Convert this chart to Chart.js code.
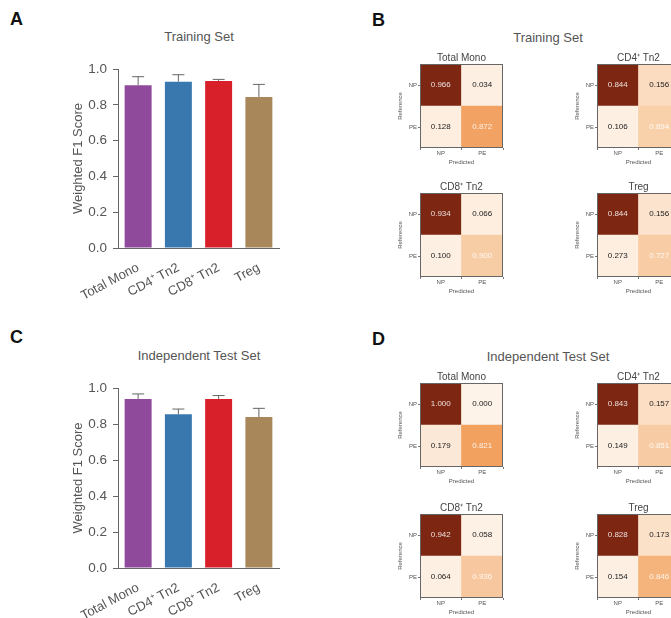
<!DOCTYPE html>
<html>
<head>
<meta charset="utf-8">
<script src="https://cdn.jsdelivr.net/npm/chart.js@4.4.0/dist/chart.umd.min.js"></script>
<style>
  html, body { margin: 0; padding: 0; background: #fff; }
  body { width: 671px; height: 618px; position: relative; overflow: hidden; font-family: 'Liberation Sans', Arial, sans-serif; }
  canvas { position: absolute; }
  .lbl { position: absolute; font-weight: bold; font-size: 18px; color: #111; }
  .ttl { position: absolute; font-size: 13px; color: #555; transform: translate(-50%, -50%); white-space: nowrap; }
  .mt { position: absolute; font-size: 10px; color: #444; transform: translate(-50%, -50%); white-space: nowrap; }
</style>
</head>
<body>
<div class="lbl" style="left:10px;top:9px">A</div>
<div class="lbl" style="left:372px;top:10px">B</div>
<div class="lbl" style="left:10px;top:327px">C</div>
<div class="lbl" style="left:372px;top:329px">D</div>
<div class="ttl" style="left:199px;top:36px">Training Set</div>
<div class="ttl" style="left:548px;top:37px">Training Set</div>
<div class="ttl" style="left:199px;top:355px">Independent Test Set</div>
<div class="ttl" style="left:548px;top:356px">Independent Test Set</div>

<canvas id="barA" width="300" height="300" style="left:0;top:0"></canvas>
<canvas id="barC" width="300" height="318" style="left:0;top:300px"></canvas>

<canvas id="b1" width="143" height="124" style="left:390px;top:46px"></canvas>
<canvas id="b2" width="143" height="124" style="left:567px;top:46px"></canvas>
<canvas id="b3" width="143" height="124" style="left:390px;top:175px"></canvas>
<canvas id="b4" width="143" height="124" style="left:567px;top:175px"></canvas>
<canvas id="d1" width="143" height="124" style="left:390px;top:365px"></canvas>
<canvas id="d2" width="143" height="124" style="left:567px;top:365px"></canvas>
<canvas id="d3" width="143" height="124" style="left:390px;top:496px"></canvas>
<canvas id="d4" width="143" height="124" style="left:567px;top:496px"></canvas>

<script>
// bar panels
const cellTypes = ['Total Mono', 'CD4\u207A Tn2', 'CD8\u207A Tn2', 'Treg'];
const trainF1 = [0.909, 0.929, 0.933, 0.844];
const trainErr = [0.048, 0.039, 0.009, 0.070];
const testF1 = [0.939, 0.854, 0.939, 0.839];
const testErr = [0.028, 0.029, 0.019, 0.048];

// confusion matrices: rows = Reference (NP, PE), columns = Predicted (NP, PE)
const predLabels = ['NP', 'PE'];
const trainRowNP = [[0.966, 0.034], [0.844, 0.156], [0.934, 0.066], [0.844, 0.156]];
const trainRowPE = [[0.128, 0.872], [0.106, 0.894], [0.100, 0.900], [0.273, 0.727]];
const testRowNP = [[1.000, 0.000], [0.843, 0.157], [0.942, 0.058], [0.828, 0.173]];
const testRowPE = [[0.179, 0.821], [0.149, 0.851], [0.064, 0.936], [0.154, 0.846]];

const barColors = ['#8f4a9b', '#3878ae', '#d8202a', '#a8875a'];
const dark = '#7d2713';
const trainColNP = [[dark, '#fdf0e3'], [dark, '#fbdcc0'], [dark, '#fdeee0'], [dark, '#fce3cd']];
const trainColPE = [['#fdeee0', '#f2a262'], ['#fdf0e3', '#f8d1ab'], ['#fdf0e3', '#f7cda6'], ['#fdeee0', '#f8cca4']];
const testColNP = [[dark, '#fdf3e8'], [dark, '#fbdec4'], [dark, '#fdf0e4'], [dark, '#fce1c9']];
const testColPE = [['#fce8d6', '#f2a15e'], ['#fdf0e3', '#f7cba4'], ['#fdf0e3', '#f7c89f'], ['#fdf0e3', '#f4b47c']];

Chart.defaults.font.family = "'Liberation Sans', Arial, sans-serif";
Chart.defaults.color = '#555';

const errorBars = {
    id: 'errorBars',
    afterDatasetsDraw(chart) {
        const ctx = chart.ctx;
        const ds = chart.data.datasets[0];
        const ys = chart.scales.y;
        ctx.save();
        ctx.strokeStyle = '#666';
        ctx.lineWidth = 1;
        chart.getDatasetMeta(0).data.forEach((bar, i) => {
            const top = ys.getPixelForValue(ds.data[i] + ds.errs[i]);
            ctx.beginPath();
            ctx.moveTo(bar.x, bar.y);
            ctx.lineTo(bar.x, top);
            ctx.moveTo(bar.x - 6, top);
            ctx.lineTo(bar.x + 6, top);
            ctx.stroke();
        });
        ctx.restore();
    }
};

function barChart(id, values, errs, padTop, xHeight) {
    new Chart(document.getElementById(id), {
        type: 'bar',
        data: {
            labels: cellTypes,
            datasets: [{
                data: values,
                errs: errs,
                backgroundColor: barColors,
                barPercentage: 0.67,
                categoryPercentage: 1
            }]
        },
        options: {
            responsive: false,
            animation: false,
            layout: { padding: { left: 70, right: 21, top: padTop, bottom: 0 } },
            plugins: { legend: { display: false }, tooltip: { enabled: false } },
            scales: {
                x: {
                    grid: { display: false },
                    border: { color: '#666' },
                    ticks: { font: { size: 13 }, minRotation: 28, maxRotation: 28, padding: 4, color: '#555' },
                    afterFit: s => { s.height = xHeight; }
                },
                y: {
                    min: 0,
                    max: 1,
                    ticks: { stepSize: 0.2, callback: v => v.toFixed(1), font: { size: 13.5 }, padding: 6, color: '#555' },
                    grid: { drawOnChartArea: false, tickLength: 5, color: '#666' },
                    border: { color: '#666' },
                    title: { display: true, text: 'Weighted F1 Score', font: { size: 13 }, color: '#555', padding: { top: 1, bottom: 0 } },
                    afterFit: s => { s.width = 48; }
                }
            }
        },
        plugins: [errorBars]
    });
}

const matrixDeco = {
    id: 'matrixDeco',
    afterDatasetsDraw(chart) {
        const ctx = chart.ctx;
        const a = chart.chartArea;
        ctx.save();
        ctx.font = "8px 'Liberation Sans', Arial, sans-serif";
        ctx.textAlign = 'center';
        ctx.textBaseline = 'middle';
        chart.data.datasets.forEach((ds, di) => {
            chart.getDatasetMeta(di).data.forEach((cell, ci) => {
                const diag = (di === 0 && ci === 1) || (di === 1 && ci === 0);
                ctx.fillStyle = diag ? 'rgba(255,255,255,0.85)' : '#222';
                ctx.fillText(ds.vals[ci].toFixed(3), cell.x, (cell.y + cell.base) / 2);
            });
        });
        ctx.strokeStyle = '#666';
        ctx.lineWidth = 1;
        ctx.strokeRect(Math.round(a.left) + 0.5, Math.round(a.top) + 0.5, Math.round(a.width) - 1, Math.round(a.height) - 1);
        ctx.restore();
    }
};

function matrixChart(id, title, rowNP, rowPE, colNP, colPE) {
    const canvas = document.getElementById(id);
    // matrix title as page text, centred over the cell box
    const t = document.createElement('div');
    t.className = 'mt';
    t.textContent = title;
    t.style.left = (parseFloat(canvas.style.left) + 30 + 41.5) + 'px';
    t.style.top = (parseFloat(canvas.style.top) + 11) + 'px';
    document.body.appendChild(t);

    new Chart(canvas, {
        type: 'bar',
        data: {
            labels: predLabels,
            datasets: [
                { data: [1, 1], vals: rowPE, backgroundColor: colPE, barPercentage: 1, categoryPercentage: 1 },
                { data: [1, 1], vals: rowNP, backgroundColor: colNP, barPercentage: 1, categoryPercentage: 1 }
            ]
        },
        options: {
            responsive: false,
            animation: false,
            layout: { padding: { left: 6, right: 30, top: 18, bottom: 0 } },
            plugins: { legend: { display: false }, tooltip: { enabled: false } },
            scales: {
                x: {
                    stacked: true,
                    grid: { drawOnChartArea: false, tickLength: 2, color: '#777' },
                    border: { display: false },
                    ticks: { font: { size: 6 }, padding: 0, color: '#555' },
                    title: { display: true, text: 'Predicted', font: { size: 6 }, color: '#555', padding: { top: 0, bottom: 4 } },
                    afterFit: s => { s.height = 22; }
                },
                y: {
                    stacked: true,
                    min: 0,
                    max: 2,
                    afterBuildTicks: s => { s.ticks = [{ value: 0.5 }, { value: 1.5 }]; },
                    ticks: { font: { size: 6 }, padding: 1, color: '#555', callback: v => v > 1 ? 'NP' : 'PE' },
                    grid: { drawOnChartArea: false, tickLength: 2, color: '#777' },
                    border: { display: false },
                    title: { display: true, text: 'Reference', font: { size: 6 }, color: '#555', padding: { top: 1, bottom: 0 } },
                    afterFit: s => { s.width = 24; }
                }
            }
        },
        plugins: [matrixDeco]
    });
}

barChart('barA', trainF1, trainErr, 69, 52);
barChart('barC', testF1, testErr, 88, 50);

['b1', 'b2', 'b3', 'b4'].forEach((id, i) => {
    matrixChart(id, cellTypes[i], trainRowNP[i], trainRowPE[i], trainColNP[i], trainColPE[i]);
});
['d1', 'd2', 'd3', 'd4'].forEach((id, i) => {
    matrixChart(id, cellTypes[i], testRowNP[i], testRowPE[i], testColNP[i], testColPE[i]);
});
</script>
</body>
</html>
